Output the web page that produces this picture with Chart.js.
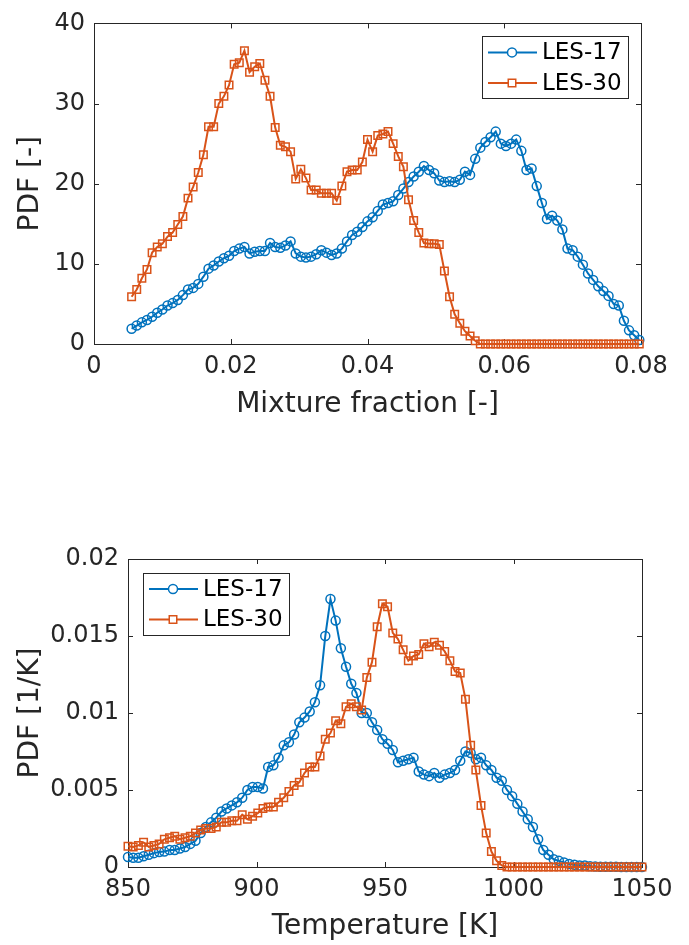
<!DOCTYPE html>
<html>
<head>
<meta charset="utf-8">
<script src="https://cdn.jsdelivr.net/npm/chart.js@4"></script>
<style>
  html, body { margin: 0; padding: 0; background: #fff; }
  body { width: 689px; height: 945px; position: relative; overflow: hidden; }
  canvas { position: absolute; left: 0; }
  #cMix { top: 0; }
  #cTemp { top: 470px; }
</style>
</head>
<body>
<canvas id="cMix" width="689" height="430"></canvas>
<canvas id="cTemp" width="689" height="475"></canvas>
<script>
// MATLAB default colours
const BLUE = "#0072BD";
const ORANGE = "#D95319";
const AX = "#262626";
const FONT = "'DejaVu Sans', sans-serif";

// --- top panel: mixture fraction PDF ---
const mixFraction = [
    0.0055, 0.00625, 0.007, 0.00775, 0.0085, 0.00925, 0.01, 0.01075, 0.0115, 0.01225,
    0.013, 0.01375, 0.0145, 0.01525, 0.016, 0.01675, 0.0175, 0.01825, 0.019, 0.01975,
    0.0205, 0.02125, 0.022, 0.02275, 0.0235, 0.02425, 0.025, 0.02575, 0.0265, 0.02725,
    0.028, 0.02875, 0.0295, 0.03025, 0.031, 0.03175, 0.0325, 0.03325, 0.034, 0.03475,
    0.0355, 0.03625, 0.037, 0.03775, 0.0385, 0.03925, 0.04, 0.04075, 0.0415, 0.04225,
    0.043, 0.04375, 0.0445, 0.04525, 0.046, 0.04675, 0.0475, 0.04825, 0.049, 0.04975,
    0.0505, 0.05125, 0.052, 0.05275, 0.0535, 0.05425, 0.055, 0.05575, 0.0565, 0.05725,
    0.058, 0.05875, 0.0595, 0.06025, 0.061, 0.06175, 0.0625, 0.06325, 0.064, 0.06475,
    0.0655, 0.06625, 0.067, 0.06775, 0.0685, 0.06925, 0.07, 0.07075, 0.0715, 0.07225,
    0.073, 0.07375, 0.0745, 0.07525, 0.076, 0.07675, 0.0775, 0.07825, 0.079, 0.07975
];
const pdfMixLes17 = [
    1.9, 2.3, 2.7, 3.0, 3.4, 3.9, 4.3, 4.8, 5.1, 5.5,
    6.1, 6.8, 7.0, 7.5, 8.4, 9.4, 9.8, 10.3, 10.7, 11.0,
    11.6, 11.9, 12.1, 11.3, 11.5, 11.6, 11.6, 12.6, 12.1, 12.0,
    12.3, 12.8, 11.3, 10.9, 10.8, 10.9, 11.2, 11.7, 11.4, 11.1,
    11.3, 11.9, 12.8, 13.6, 14.0, 14.6, 15.3, 15.8, 16.6, 17.4,
    17.6, 17.8, 18.6, 19.4, 20.2, 20.9, 21.5, 22.2, 21.7, 21.3,
    20.4, 20.2, 20.3, 20.2, 20.5, 21.5, 21.1, 23.1, 24.5, 25.2,
    25.8, 26.5, 25.0, 24.7, 25.0, 25.5, 24.1, 21.7, 21.9, 19.7,
    17.6, 15.6, 16.0, 15.4, 14.3, 11.9, 11.7, 10.9, 9.9, 8.8,
    8.0, 7.2, 6.6, 6.0, 5.0, 4.8, 2.9, 1.7, 1.1, 0.5
];
const pdfMixLes30 = [
    5.9, 6.8, 8.2, 9.3, 11.4, 12.1, 12.5, 13.4, 13.9, 14.9,
    15.9, 18.2, 19.6, 21.4, 23.6, 27.1, 27.1, 30.0, 30.9, 32.3,
    34.9, 35.1, 36.6, 33.9, 34.6, 35.0, 32.9, 30.9, 27.0, 24.8,
    24.6, 24.0, 20.6, 21.8, 20.7, 19.2, 19.2, 18.8, 18.8, 18.8,
    17.9, 19.7, 21.5, 21.7, 21.7, 22.7, 25.5, 24.0, 26.0, 26.2,
    26.5, 25.0, 23.4, 22.1, 18.0, 15.4, 13.9, 12.6, 12.5, 12.5,
    12.4, 9.1, 5.9, 3.7, 2.6, 1.6, 1.0, 0.4, 0, 0,
    0, 0, 0, 0, 0, 0, 0, 0, 0, 0,
    0, 0, 0, 0, 0, 0, 0, 0, 0, 0,
    0, 0, 0, 0, 0, 0, 0, 0, 0, 0
];
const mixTicksX = [0, 0.02, 0.04, 0.06, 0.08];
const mixTicksY = [0, 10, 20, 30, 40];

// --- bottom panel: temperature PDF ---
const temperature = [
    850, 852.02, 854.04, 856.06, 858.08, 860.1, 862.12, 864.14, 866.16, 868.18,
    870.2, 872.22, 874.24, 876.26, 878.28, 880.3, 882.32, 884.34, 886.36, 888.38,
    890.4, 892.42, 894.44, 896.46, 898.48, 900.5, 902.52, 904.54, 906.56, 908.58,
    910.6, 912.62, 914.64, 916.66, 918.68, 920.7, 922.72, 924.74, 926.76, 928.78,
    930.8, 932.82, 934.84, 936.86, 938.88, 940.9, 942.92, 944.94, 946.96, 948.98,
    951, 953.02, 955.04, 957.06, 959.08, 961.1, 963.12, 965.14, 967.16, 969.18,
    971.2, 973.22, 975.24, 977.26, 979.28, 981.3, 983.32, 985.34, 987.36, 989.38,
    991.4, 993.42, 995.44, 997.46, 999.48, 1001.5, 1003.52, 1005.54, 1007.56, 1009.58,
    1011.6, 1013.62, 1015.64, 1017.66, 1019.68, 1021.7, 1023.72, 1025.74, 1027.76, 1029.78,
    1031.8, 1033.82, 1035.84, 1037.86, 1039.88, 1041.9, 1043.92, 1045.94, 1047.96, 1049.98
];
const pdfTempLes17 = [
    0.00065, 0.0006, 0.0006, 0.0007, 0.0008, 0.0009, 0.00097, 0.001, 0.0011, 0.0011,
    0.0012, 0.0013, 0.0015, 0.0017, 0.0022, 0.0026, 0.0029, 0.0032, 0.0036, 0.0038,
    0.004, 0.0042, 0.0045, 0.005, 0.0052, 0.0052, 0.0051, 0.0065, 0.0066, 0.0071,
    0.0079, 0.0081, 0.0086, 0.0094, 0.0097, 0.0101, 0.0107, 0.0118, 0.015, 0.0174,
    0.016, 0.0142, 0.013, 0.0119, 0.0113, 0.01, 0.01, 0.0094, 0.0089, 0.0083,
    0.008, 0.0076, 0.0068, 0.0069, 0.007, 0.0071, 0.0062, 0.006, 0.0059, 0.0061,
    0.0058, 0.006, 0.0061, 0.0063, 0.0069, 0.0075, 0.0074, 0.007, 0.0071, 0.0066,
    0.0063, 0.0058, 0.0056, 0.005, 0.0046, 0.0041, 0.0036, 0.0031, 0.0026, 0.0018,
    0.0011, 0.0008, 0.0005, 0.0004, 0.0003, 0.0002, 0.00015, 0.0001, 0.0001, 0.00005,
    0.00003, 0.00002, 0.00002, 0.00001, 0.00001, 0, 0, 0, 0, 0
];
const pdfTempLes30 = [
    0.00134, 0.0013, 0.0014, 0.0016, 0.0013, 0.0014, 0.0015, 0.0018, 0.0019, 0.002,
    0.0018, 0.0019, 0.002, 0.0022, 0.0024, 0.0025, 0.0025, 0.0026, 0.0029, 0.0029,
    0.003, 0.003, 0.0034, 0.0031, 0.0033, 0.0035, 0.0038, 0.0039, 0.0039, 0.0042,
    0.0045, 0.0049, 0.0053, 0.0055, 0.0061, 0.0065, 0.0065, 0.0072, 0.0083, 0.0087,
    0.0095, 0.0093, 0.0104, 0.0106, 0.0104, 0.0102, 0.0123, 0.0133, 0.0156, 0.0171,
    0.0169, 0.0152, 0.0148, 0.0141, 0.0134, 0.0137, 0.0138, 0.0145, 0.0143, 0.0146,
    0.0144, 0.014, 0.0134, 0.0127, 0.0126, 0.0109, 0.0079, 0.0063, 0.004, 0.0022,
    0.001, 0.0004, 0.0001, 0, 0, 0, 0, 0, 0, 0,
    0, 0, 0, 0, 0, 0, 0, 0, 0, 0,
    0, 0, 0, 0, 0, 0, 0, 0, 0, 0
];
const tempTicksX = [850, 900, 950, 1000, 1050];
const tempTicksY = [0, 0.005, 0.01, 0.015, 0.02];

const seriesNames = ["LES-17", "LES-30"];

function fmt(v) {
    return String(parseFloat(Number(v).toFixed(4)));
}

function pairs(xs, ys) {
    return xs.map((x, i) => ({ x, y: ys[i] }));
}

// box round the axes with inward ticks on all four sides
const matlabAxes = {
    id: "matlabAxes",
    beforeDatasetsDraw(chart) {
        const { ctx, chartArea: a, scales: { x, y } } = chart;
        const tl = 5;
        ctx.save();
        ctx.strokeStyle = AX;
        ctx.lineWidth = 1;
        ctx.strokeRect(Math.round(a.left) + 0.5, Math.round(a.top) + 0.5,
            Math.round(a.right - a.left), Math.round(a.bottom - a.top));
        ctx.beginPath();
        for (const t of x.ticks) {
            const px = Math.round(x.getPixelForValue(t.value)) + 0.5;
            ctx.moveTo(px, a.bottom); ctx.lineTo(px, a.bottom - tl);
            ctx.moveTo(px, a.top); ctx.lineTo(px, a.top + tl);
        }
        for (const t of y.ticks) {
            const py = Math.round(y.getPixelForValue(t.value)) + 0.5;
            ctx.moveTo(a.left, py); ctx.lineTo(a.left + tl, py);
            ctx.moveTo(a.right, py); ctx.lineTo(a.right - tl, py);
        }
        ctx.stroke();
        ctx.restore();
    }
};

// legend box with line + marker samples, like MATLAB
const boxLegend = {
    id: "boxLegend",
    afterDatasetsDraw(chart, args, opts) {
        const { ctx, chartArea: a } = chart;
        const w = 146, h = 62;
        const left = opts.corner === "right" ? a.right - opts.dx - w : a.left + opts.dx;
        const top = a.top + opts.dy;
        ctx.save();
        ctx.fillStyle = "#fff";
        ctx.fillRect(left, top, w, h);
        ctx.strokeStyle = AX;
        ctx.lineWidth = 1;
        ctx.strokeRect(Math.round(left) + 0.5, Math.round(top) + 0.5, w, h);
        chart.data.datasets.forEach((ds, i) => {
            const cy = top + 16 + i * 30.5;
            ctx.strokeStyle = ds.borderColor;
            ctx.lineWidth = 2;
            ctx.beginPath();
            ctx.moveTo(left + 6, cy); ctx.lineTo(left + 55, cy);
            ctx.stroke();
            ctx.lineWidth = 1.5;
            ctx.beginPath();
            if (ds.pointStyle === "circle") {
                ctx.arc(left + 30, cy, 4.5, 0, Math.PI * 2);
            } else {
                ctx.rect(left + 30 - 3.75, cy - 3.75, 7.5, 7.5);
            }
            ctx.fillStyle = "#fff";
            ctx.fill();
            ctx.stroke();
            ctx.fillStyle = "#000";
            ctx.font = "23px " + FONT;
            ctx.textBaseline = "middle";
            ctx.fillText(ds.label, left + 60, cy + 1);
        });
        ctx.restore();
    }
};

function dataset(label, data, color, style, order) {
    return {
        label, data, order,
        borderColor: color,
        borderWidth: 2,
        pointStyle: style,
        pointRadius: style === "circle" ? 4.5 : 5.3,
        pointBorderWidth: 1.5,
        pointBorderColor: color,
        pointBackgroundColor: "rgba(0,0,0,0)",
        pointHoverRadius: 4.5,
        tension: 0,
        clip: false,
    };
}

function makeChart(id, cfg) {
    const tickFont = { family: FONT, size: 24 };
    const titleFont = { family: FONT, size: 28 };
    return new Chart(document.getElementById(id), {
        type: "line",
        data: {
            datasets: [
                dataset(seriesNames[0], pairs(cfg.xs, cfg.y17), BLUE, "circle", 1),
                dataset(seriesNames[1], pairs(cfg.xs, cfg.y30), ORANGE, "rect", 0),
            ]
        },
        options: {
            responsive: false,
            animation: false,
            devicePixelRatio: 1,
            layout: { padding: cfg.padding },
            plugins: {
                legend: { display: false },
                tooltip: { enabled: false },
                boxLegend: cfg.legend,
            },
            scales: {
                x: {
                    type: "linear",
                    min: cfg.xTicks[0], max: cfg.xTicks[cfg.xTicks.length - 1],
                    afterBuildTicks: s => { s.ticks = cfg.xTicks.map(v => ({ value: v })); },
                    afterFit: s => { s.height = cfg.xHeight; },
                    grid: { display: false, drawTicks: false },
                    border: { display: false },
                    ticks: { color: AX, font: tickFont, padding: 8, maxRotation: 0, callback: fmt },
                    title: { display: true, text: cfg.xTitle, color: AX, font: titleFont,
                             padding: { top: 0, bottom: cfg.xTitlePad } },
                },
                y: {
                    type: "linear",
                    min: cfg.yTicks[0], max: cfg.yTicks[cfg.yTicks.length - 1],
                    afterBuildTicks: s => { s.ticks = cfg.yTicks.map(v => ({ value: v })); },
                    afterFit: s => { s.width = cfg.yWidth; },
                    grid: { display: false, drawTicks: false },
                    border: { display: false },
                    ticks: { color: AX, font: tickFont, padding: 9, callback: fmt },
                    title: { display: true, text: cfg.yTitle, color: AX, font: titleFont,
                             padding: { top: 14, bottom: 0 } },
                }
            }
        },
        plugins: [matlabAxes, boxLegend]
    });
}

makeChart("cMix", {
    xs: mixFraction, y17: pdfMixLes17, y30: pdfMixLes30,
    xTicks: mixTicksX, yTicks: mixTicksY,
    xTitle: "Mixture fraction [-]", yTitle: "PDF [-]",
    padding: { top: 17, right: 48, left: 0, bottom: 0 },
    yWidth: 94, xHeight: 86, xTitlePad: 8,
    legend: { corner: "right", dx: 13, dy: 13 },
});

makeChart("cTemp", {
    xs: temperature, y17: pdfTempLes17, y30: pdfTempLes30,
    xTicks: tempTicksX, yTicks: tempTicksY,
    xTitle: "Temperature [K]", yTitle: "PDF [1/K]",
    padding: { top: 89, right: 47, left: 0, bottom: 0 },
    yWidth: 128, xHeight: 78, xTitlePad: 1,
    legend: { corner: "left", dx: 15, dy: 14 },
});
</script>
</body>
</html>
